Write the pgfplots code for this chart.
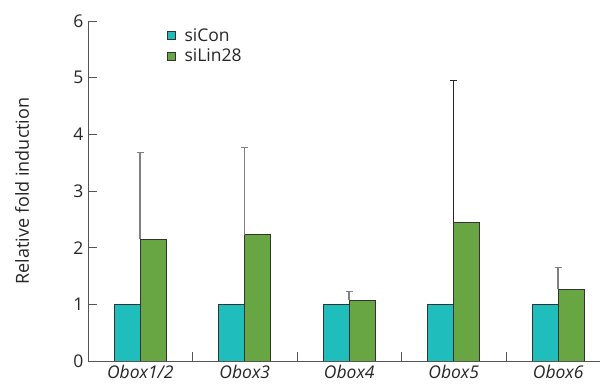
\documentclass[border=0pt]{standalone}
\usepackage{pgfplots}
\pgfplotsset{compat=1.18}
\usepackage{fontspec}
\setmainfont{Open Sans}
\definecolor{teal1}{HTML}{20BDBD}
\definecolor{green1}{HTML}{68A543}
\definecolor{axgray}{HTML}{555555}
\begin{document}
\begin{tikzpicture}
\begin{axis}[
  scale only axis,
  width=512pt, height=340pt,
  xmin=-0.5, xmax=4.4,
  ymin=0, ymax=6,
  axis x line*=bottom, axis y line*=left,
  axis line style={axgray, line width=0.9pt},
  xtick={0,1,2,3,4},
  xticklabels={\textit{Obox1/2},\textit{Obox3},\textit{Obox4},\textit{Obox5},\textit{Obox6}},
  minor xtick={0.5,1.5,2.5,3.5},
  major x tick style={draw=none},
  minor tick length=9pt,
  minor tick style={axgray, line width=0.9pt},
  ytick={0,1,2,3,4,5,6},
  major tick length=9pt,
  tick align=inside,
  ytick style={axgray, line width=0.9pt},
  /pgf/number format/assume math mode=true,
  tick label style={font=\fontsize{17.5}{20}\selectfont, text=black!85},
  xticklabel style={yshift=-1pt},
  yticklabel style={xshift=-1pt},
  ylabel={Relative fold induction},
  ylabel style={font=\fontsize{18}{21}\selectfont, text=black!85, at={(axis description cs:-0.129,0.5)}, anchor=center},
  bar width=26pt,
  legend style={draw=none, fill=none, at={(rel axis cs:0.148,0.99)}, anchor=north west,
    font=\fontsize{17.5}{20}\selectfont, text=black!85, row sep=2pt},
  legend cell align=left,
  legend image code/.code={\draw[#1, draw=black!80, line width=0.6pt] (0pt,-4pt) rectangle (8pt,4pt);},
]
\addplot[ybar, bar shift=-13pt, fill=teal1, draw=black!80, line width=0.7pt]
  coordinates {(0,1) (1,1) (2,1) (3,1) (4,1)};
\addlegendentry{\hspace*{7pt}siCon}
\addplot[ybar, bar shift=13pt, fill=green1, draw=black!80, line width=0.7pt,
  error bars/.cd, y dir=plus, y explicit,
  error bar style={color=black!50, line width=1.5pt},
  error mark options={rotate=90, mark size=3.5pt, color=black!50, line width=1.5pt}]
  coordinates {(0,2.15) +- (0,1.53) (1,2.23) +- (0,1.54) (2,1.07) +- (0,0.16) (3,2.45) (4,1.27) +- (0,0.38)};
\addlegendentry{\hspace*{7pt}siLin28}
\addplot[ybar, bar shift=13pt, fill=green1, draw=black!80, line width=0.7pt, forget plot,
  error bars/.cd, y dir=plus, y explicit,
  error bar style={color=black!85, line width=1.3pt},
  error mark options={rotate=90, mark size=3.5pt, color=black!85, line width=1.3pt}]
  coordinates {(3,2.45) +- (0,2.50)};
\coordinate (o) at (rel axis cs:0,0);
\end{axis}
\pgfresetboundingbox
\path (o) ++(-88pt,-30pt) rectangle ++(600pt,391pt);
\end{tikzpicture}
\end{document}
